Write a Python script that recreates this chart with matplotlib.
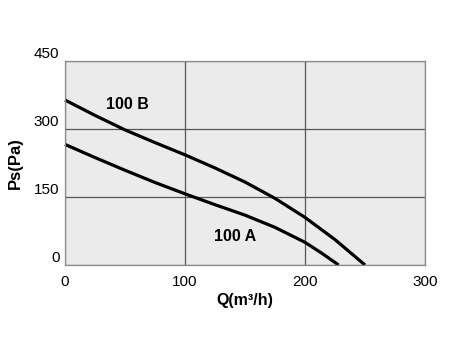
import matplotlib.pyplot as plt

# fan curves, read as (Q, Ps) pairs
q_b = [0, 25, 50, 75, 100, 125, 150, 175, 200, 225, 250]
ps_b = [364, 330, 298, 270, 243, 214, 183, 147, 105, 56, 0]

q_a = [0, 25, 50, 75, 100, 125, 150, 175, 200, 214, 228]
ps_a = [266, 237, 209, 182, 157, 133, 110, 83, 50, 26, 0]

x_ticks = [0, 100, 200, 300]
y_ticks = [0, 150, 300, 450]

plt.rcParams['font.family'] = ['Liberation Sans', 'DejaVu Sans']

fig = plt.figure(figsize=(4.5, 3.5), dpi=100)
ax = fig.add_axes([65 / 450, 85 / 350, 360 / 450, 204 / 350])
ax.set_facecolor('#ebebeb')
ax.set_xlim(0, 300)
ax.set_ylim(0, 450)
ax.set_xticks(x_ticks)
ax.set_yticks(y_ticks)
ax.grid(color='#555555', linewidth=0.9)
ax.set_axisbelow(True)
for s in ax.spines.values():
	s.set_color('#8a8a8a')
	s.set_linewidth(0.9)
ax.tick_params(length=0, labelsize=11)
ax.tick_params(axis='y', pad=4)
ax.tick_params(axis='x', pad=7)
for lab in ax.get_yticklabels():
	lab.set_verticalalignment('bottom')

ax.plot(q_b, ps_b, 'k-', linewidth=2.3, solid_capstyle='butt', solid_joinstyle='round', clip_on=False)
ax.plot(q_a, ps_a, 'k-', linewidth=2.3, solid_capstyle='butt', solid_joinstyle='round', clip_on=False)
ax.text(52, 355, '100 B', fontsize=11.5, fontweight='bold', ha='center', va='center')
ax.text(142, 62, '100 A', fontsize=11.5, fontweight='bold', ha='center', va='center')

ax.set_xlabel('Q(m³/h)', fontsize=11.5, fontweight='bold', labelpad=3)
ax.set_ylabel('Ps(Pa)', fontsize=12, fontweight='bold', labelpad=8)

plt.savefig('out.png', dpi=100)
